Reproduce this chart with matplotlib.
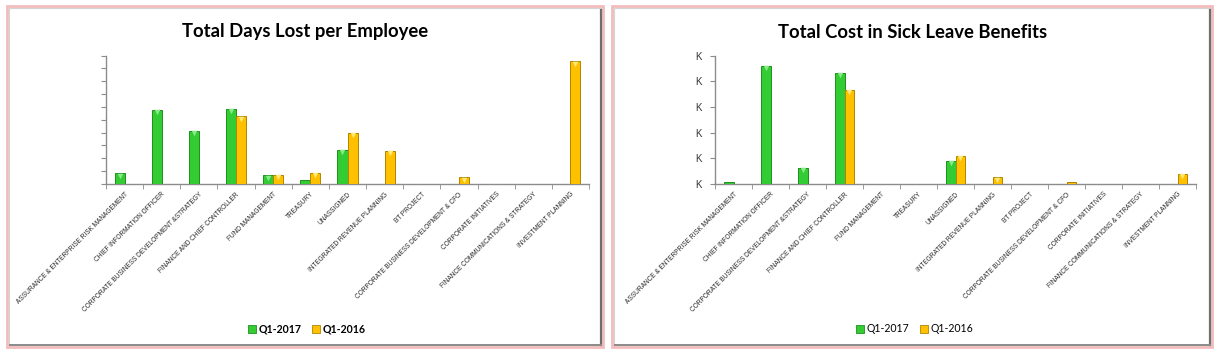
import matplotlib
matplotlib.use("Agg")
import matplotlib.pyplot as plt
import matplotlib.font_manager as fm
from matplotlib.patches import Rectangle, Patch
from matplotlib.lines import Line2D
from matplotlib.transforms import ScaledTranslation
import numpy as np

categories = [
    "ASSURANCE & ENTERPRISE RISK MANAGEMENT",
    "CHIEF INFORMATION OFFICER",
    "CORPORATE BUSINESS DEVELOPMENT &STRATEGY",
    "FINANCE AND CHIEF CONTROLLER",
    "FUND MANAGEMENT",
    "TREASURY",
    "UNASSIGNED",
    "INTEGRATED REVENUE PLANNING",
    "BT PROJECT",
    "CORPORATE BUSINESS DEVELOPMENT & CFO",
    "CORPORATE INITIATIVES",
    "FINANCE COMMUNICATIONS & STRATEGY",
    "INVESTMENT PLANNING",
]
series_names = ["Q1-2017", "Q1-2016"]

# total days lost per employee (no labels on the axis, read in tick units)
days_2017 = [0.83, 5.78, 4.14, 5.86, 0.68, 0.34, 2.68, 0, 0, 0, 0, 0, 0]
days_2016 = [0, 0, 0, 5.26, 0.73, 0.89, 3.98, 2.58, 0, 0.52, 0, 0, 9.56]

# total cost in sick leave benefits (axis labelled only "K")
cost_2017 = [0.09, 4.61, 0.64, 4.32, 0, 0, 0.90, 0, 0, 0, 0, 0, 0]
cost_2016 = [0, 0, 0, 3.66, 0, 0, 1.10, 0.26, 0, 0.09, 0, 0, 0.39]
cost_ticklabels = ["K", "K", "K", "K", "K", "K"]

W, H = 1217, 354
GREEN, GREEN_EDGE, GREEN_TOP = "#33cc33", "#1f8f1f", "#8aea8a"
YELLOW, YELLOW_EDGE, YELLOW_TOP = "#ffc000", "#b08500", "#ffe97a"

names = {f.name for f in fm.fontManager.ttflist}
if "Liberation Sans Narrow" in names:
    lab_font, lab_size = "Liberation Sans Narrow", 5.6
else:
    lab_font, lab_size = "Liberation Sans", 4.7
head_font = "Lato" if "Lato" in names else "DejaVu Sans"

fig = plt.figure(figsize=(W / 100, H / 100), dpi=100)
fig.patch.set_facecolor("white")


def fx(x):
    return x / W


def fy(y):
    return 1 - y / H


def panel(x0, x1, y0=6, y1=347):
    # pink outer glow + grey inner frame with darker right/bottom shadow
    fig.add_artist(Rectangle((fx(x0), fy(y1)), fx(x1 - x0), (y1 - y0) / H,
                             transform=fig.transFigure, fill=False,
                             edgecolor="#f3bcbc", lw=2.0))
    fig.add_artist(Rectangle((fx(x0 + 2), fy(y1 - 2)), fx(x1 - x0 - 4), (y1 - y0 - 4) / H,
                             transform=fig.transFigure, fill=False,
                             edgecolor="#d4d4d4", lw=0.8))
    fig.add_artist(Line2D([fx(x1 - 2), fx(x1 - 2)], [fy(y0 + 4), fy(y1 - 2)],
                          transform=fig.transFigure, color="#6e6e6e", lw=1.6))
    fig.add_artist(Line2D([fx(x0 + 3), fx(x1 - 2)], [fy(y1 - 2), fy(y1 - 2)],
                          transform=fig.transFigure, color="#8a8a8a", lw=1.4))


def draw(ax, v17, v16, ymax, nticks, ticklabels=None):
    x = np.arange(len(categories))
    w = 0.27
    for vals, off, fc, ec, tc in [(v17, -0.135, GREEN, GREEN_EDGE, GREEN_TOP),
                                  (v16, 0.135, YELLOW, YELLOW_EDGE, YELLOW_TOP)]:
        vals = np.array(vals, dtype=float)
        ax.bar(x + off, vals, w, color=fc, edgecolor=ec, linewidth=0.7, zorder=3)
        show = vals > ymax * 0.05
        tr = ax.transData + ScaledTranslation(0, -1.8 / 72, fig.dpi_scale_trans)
        ax.scatter((x + off)[show], vals[show], marker="v", s=16, color=tc,
                   linewidths=0, transform=tr, zorder=4)
    ax.set_xlim(-0.5, len(categories) - 0.5)
    ax.set_ylim(0, ymax)
    for s in ["top", "right"]:
        ax.spines[s].set_visible(False)
    for s in ["left", "bottom"]:
        ax.spines[s].set_color("#8c8c8c")
        ax.spines[s].set_linewidth(1.0)
    ax.set_xticks(x)
    ax.set_xticklabels(categories, rotation=45, ha="right", va="top",
                       rotation_mode="anchor", fontsize=lab_size,
                       family=lab_font, color="#262626")
    ax.tick_params(axis="x", which="major", length=0, pad=5)
    ax.set_xticks(np.arange(-0.5, len(categories)), minor=True)
    ax.tick_params(axis="x", which="minor", length=3.5, color="#8c8c8c")
    ax.set_yticks(np.linspace(0, ymax, nticks))
    ax.tick_params(axis="y", length=3.5, color="#8c8c8c", pad=6)
    if ticklabels is None:
        ax.set_yticklabels([])
    else:
        ax.set_yticklabels(ticklabels, fontsize=7, family="Liberation Sans",
                           color="#333333")


panel(7, 603)
panel(612, 1212)

ax1 = fig.add_axes([fx(106), fy(184), fx(589 - 106), 128.5 / H])
draw(ax1, days_2017, days_2016, 10, 11)
ax2 = fig.add_axes([fx(715), fy(184), fx(1196 - 715), 128.5 / H])
draw(ax2, cost_2017, cost_2016, 5, 6, cost_ticklabels)

fig.text(fx(305), fy(31), "Total Days Lost per Employee", ha="center", va="center",
         fontsize=13.3, fontweight="bold", family=head_font)
fig.text(fx(913), fy(32), "Total Cost in Sick Leave Benefits", ha="center", va="center",
         fontsize=13.3, fontweight="bold", family=head_font)

handles = [Patch(facecolor=GREEN, edgecolor=GREEN_EDGE, lw=0.6),
           Patch(facecolor=YELLOW, edgecolor=YELLOW_EDGE, lw=0.6)]
for ax, cx, weight in [(ax1, 307, "bold"), (ax2, 915, "normal")]:
    ax.legend(handles, series_names, loc="center", ncol=2, frameon=False,
              bbox_to_anchor=(fx(cx), fy(329)), bbox_transform=fig.transFigure,
              handlelength=0.7, handleheight=0.7, handletextpad=0.3,
              columnspacing=1.0, prop={"family": head_font, "size": 7.6, "weight": weight})

fig.savefig("out.png", dpi=100)
